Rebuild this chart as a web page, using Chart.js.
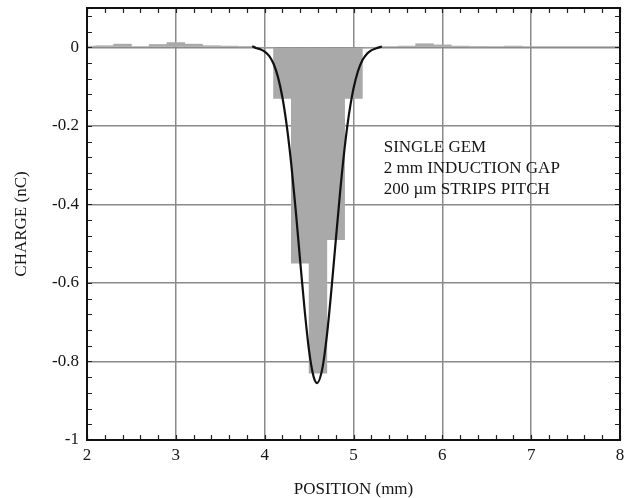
<!DOCTYPE html>
<html>
<head>
<meta charset="utf-8">
<script src="https://cdn.jsdelivr.net/npm/chart.js@4.4.0/dist/chart.umd.min.js"></script>
<style>
    html, body { margin: 0; padding: 0; background: #fff; }
    #chart { display: block; }
</style>
</head>
<body>
<canvas id="chart" width="630" height="498"></canvas>
<script>
// strip positions (mm) and collected charge per strip (nC)
const stripPos = [2.0, 2.2, 2.4, 2.6, 2.8, 3.0, 3.2, 3.4, 3.6, 3.8,
                  4.0, 4.2, 4.4, 4.6, 4.8, 5.0, 5.2, 5.4, 5.6, 5.8,
                  6.0, 6.2, 6.4, 6.6, 6.8, 7.0, 7.2, 7.4, 7.6, 7.8, 8.0];
const stripCharge = [0.003, 0.004, 0.008, 0.002, 0.007, 0.012, 0.008, 0.004, 0.003, 0.001,
                     0.0, -0.13, -0.55, -0.83, -0.49, -0.13, 0.0, 0.002, 0.003, 0.009,
                     0.006, 0.003, 0.001, 0.002, 0.003, 0.002, 0.002, 0.002, 0.002, 0.002, 0.001];

// gaussian fit curve
const fitX = [3.86, 3.90, 3.95, 4.00, 4.05, 4.10, 4.15, 4.20, 4.25, 4.30, 4.35, 4.40,
              4.45, 4.50, 4.55, 4.59, 4.65, 4.70, 4.75, 4.80, 4.85, 4.90, 4.95,
              5.00, 5.05, 5.10, 5.15, 5.20, 5.25, 5.32];
const fitY = [0.003, -0.002, -0.005, -0.011, -0.022, -0.042, -0.076, -0.128, -0.202, -0.299, -0.416, -0.545,
              -0.669, -0.773, -0.838, -0.855, -0.817, -0.735, -0.621, -0.493, -0.367, -0.257, -0.169,
              -0.105, -0.061, -0.033, -0.017, -0.008, -0.003, 0.002];

const xTicks = [2, 3, 4, 5, 6, 7, 8];
const yTicks = [-1, -0.8, -0.6, -0.4, -0.2, 0];
const yTickLabels = ['-1', '-0.8', '-0.6', '-0.4', '-0.2', '0'];
const noteLines = ['SINGLE GEM', '2 mm INDUCTION GAP', '200 \u00b5m STRIPS PITCH'];

const serif = '"Liberation Serif", "DejaVu Serif", serif';

// minor ticks, frame and the text box
const framePlugin = {
    id: 'frame',
    afterDatasetsDraw(chart) {
        const { ctx, chartArea: a, scales: { x, y } } = chart;
        ctx.save();
        ctx.strokeStyle = '#222';
        ctx.lineWidth = 1.2;
        ctx.beginPath();
        for (let v = 2; v <= 8.001; v += 0.2) {
            const px = Math.round(x.getPixelForValue(v)) + 0.5;
            ctx.moveTo(px, a.bottom); ctx.lineTo(px, a.bottom - 5);
            ctx.moveTo(px, a.top); ctx.lineTo(px, a.top + 5);
        }
        for (let v = -1; v <= 0.1001; v += 0.04) {
            const py = Math.round(y.getPixelForValue(v)) + 0.5;
            ctx.moveTo(a.left, py); ctx.lineTo(a.left + 5, py);
            ctx.moveTo(a.right, py); ctx.lineTo(a.right - 5, py);
        }
        ctx.stroke();

        ctx.lineWidth = 2;
        ctx.strokeStyle = '#111';
        ctx.strokeRect(a.left, a.top, a.right - a.left, a.bottom - a.top);

        ctx.fillStyle = '#151515';
        ctx.font = '17px ' + serif;
        ctx.textAlign = 'left';
        ctx.textBaseline = 'alphabetic';
        const tx = x.getPixelForValue(5.34);
        const ty = y.getPixelForValue(-0.267);
        noteLines.forEach((line, i) => ctx.fillText(line, tx, ty + i * 21));
        ctx.restore();
    }
};

new Chart(document.getElementById('chart'), {
    type: 'bar',
    data: {
        datasets: [
            {
                type: 'line',
                data: fitX.map((v, i) => ({ x: v, y: fitY[i] })),
                borderColor: '#111',
                borderWidth: 2.2,
                pointRadius: 0,
                cubicInterpolationMode: 'monotone',
                fill: false,
                order: 0
            },
            {
                type: 'bar',
                data: stripPos.map((v, i) => ({ x: v, y: stripCharge[i] })),
                backgroundColor: '#a9a9a9',
                borderWidth: 0,
                barPercentage: 1,
                categoryPercentage: 1,
                clip: 0,
                order: 1
            }
        ]
    },
    options: {
        responsive: false,
        animation: false,
        devicePixelRatio: 1,
        layout: { padding: { top: 8, right: 10, left: 0, bottom: 0 } },
        plugins: { legend: { display: false }, tooltip: { enabled: false } },
        scales: {
            x: {
                type: 'linear',
                min: 2,
                max: 8,
                offset: false,
                afterBuildTicks: s => { s.ticks = xTicks.map(v => ({ value: v })); },
                afterFit: s => { s.height = 58; s.paddingLeft = 0; s.paddingRight = 0; },
                grid: { offset: false, color: '#8a8a8a', lineWidth: 1.5, drawTicks: false },
                border: { display: false },
                ticks: {
                    color: '#151515',
                    font: { family: serif, size: 17 },
                    padding: 5,
                    maxRotation: 0,
                    callback: v => String(v)
                },
                title: {
                    display: true,
                    text: 'POSITION (mm)',
                    color: '#151515',
                    font: { family: serif, size: 17 },
                    padding: { top: 0, bottom: -2 }
                }
            },
            y: {
                min: -1,
                max: 0.1,
                afterBuildTicks: s => { s.ticks = yTicks.map(v => ({ value: v })); },
                afterFit: s => { s.width = 87; s.paddingTop = 0; s.paddingBottom = 0; },
                grid: { color: '#8a8a8a', lineWidth: 1.5, drawTicks: false },
                border: { display: false },
                ticks: {
                    color: '#151515',
                    font: { family: serif, size: 17 },
                    padding: 8,
                    callback: (v, i) => yTickLabels[i]
                },
                title: {
                    display: true,
                    text: 'CHARGE (nC)',
                    color: '#151515',
                    font: { family: serif, size: 17 },
                    padding: { top: 11, bottom: 0 }
                }
            }
        }
    },
    plugins: [framePlugin]
});
</script>
</body>
</html>
